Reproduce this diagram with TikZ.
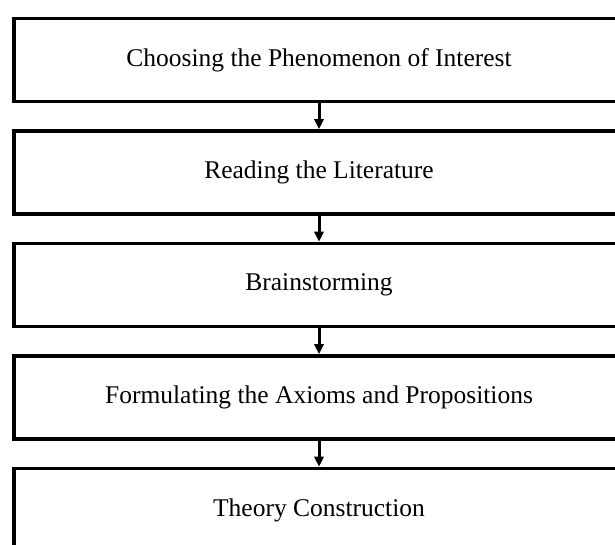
\documentclass[tikz,border=0pt]{standalone}
\usepackage{fontspec}
\setmainfont{Liberation Serif}
\usetikzlibrary{arrows.meta}
\tikzset{stage/.style={draw, line width=3.5pt, minimum width=610pt, minimum height=83pt, inner sep=0pt, font=\fontsize{25.5}{30}\selectfont},
         flow/.style={line width=3pt, -{Triangle[length=10pt,width=9pt]}}}

\begin{document}
\begin{tikzpicture}[x=1pt,y=1pt]
  \clip (0,0) rectangle (615,545);
  \node[stage] (a) at (319,485.0) {Choosing the Phenomenon of Interest};
  \node[stage] (b) at (319,372.5) {Reading the Literature};
  \node[stage] (c) at (319,260.0) {Brainstorming};
  \node[stage] (d) at (319,147.5) {Formulating the Axioms and Propositions};
  \node[stage] (e) at (319, 35.0) {Theory Construction};
  \draw[flow] (a) -- (b);
  \draw[flow] (b) -- (c);
  \draw[flow] (c) -- (d);
  \draw[flow] (d) -- (e);
\end{tikzpicture}
\end{document}
